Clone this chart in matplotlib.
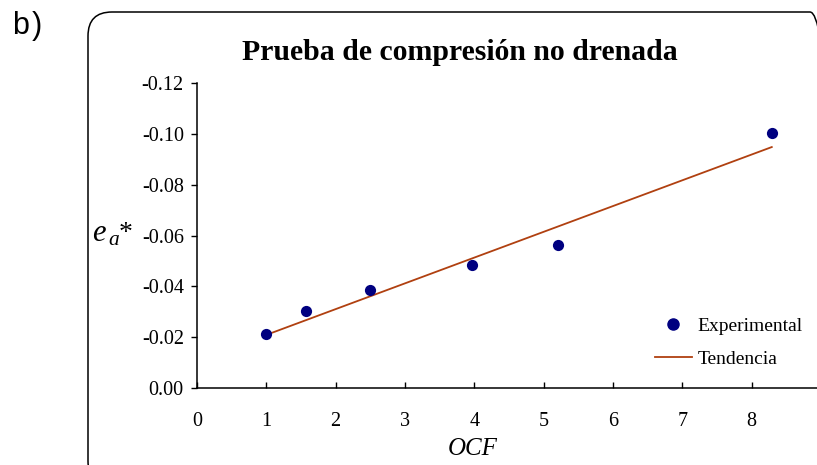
import matplotlib
matplotlib.use("Agg")
import matplotlib.pyplot as plt
from matplotlib.patches import FancyBboxPatch
from matplotlib.lines import Line2D
from matplotlib.ticker import FixedLocator, FuncFormatter
from matplotlib.transforms import IdentityTransform

# ---- data ----
ocf = [1.0, 1.57, 2.49, 3.97, 5.21, 8.29]
ea = [-0.0212, -0.0303, -0.0386, -0.0484, -0.0563, -0.1003]
trend_x = [1.0, 8.29]
trend_y = [-0.0209, -0.0948]
x_ticks = [0, 1, 2, 3, 4, 5, 6, 7, 8, 9]
y_ticks = [0.00, -0.02, -0.04, -0.06, -0.08, -0.10, -0.12]
title = "Prueba de compresión no drenada"
xlabel = "OCF"
labels = ["Experimental", "Tendencia"]

plt.rcParams['font.family'] = ['Liberation Serif', 'DejaVu Serif']
plt.rcParams['mathtext.fontset'] = 'custom'
plt.rcParams['mathtext.rm'] = 'Liberation Serif'
plt.rcParams['mathtext.it'] = 'Liberation Serif:italic'

W, H = 817, 465
fig = plt.figure(figsize=(W / 100, H / 100), dpi=100)

# rounded frame (pixel coordinates, origin bottom-left)
frame = FancyBboxPatch((88, H - 485), 834 - 88, 485 - 12,
                       boxstyle="round,pad=0,rounding_size=24",
                       transform=IdentityTransform(), fill=False,
                       edgecolor='black', linewidth=1.1)
fig.patches.append(frame)

ax = fig.add_axes([197 / W, 1 - 388 / H, (821 - 197) / W, (388 - 83) / H])
ax.set_facecolor('none')

navy = '#000080'
brown = '#B04010'
ax.scatter(ocf, ea, s=65, color=navy, zorder=3, linewidths=0)
ax.plot(trend_x, trend_y, color=brown, linewidth=1.3, zorder=2)

ax.set_xlim(0, 9)
ax.set_ylim(0, -0.12)
ax.xaxis.set_major_locator(FixedLocator(x_ticks))
ax.yaxis.set_major_locator(FixedLocator(y_ticks))
ax.yaxis.set_major_formatter(FuncFormatter(lambda v, p: "0.00" if abs(v) < 1e-9 else f"{v:.2f}"))
for s in ['top', 'right']:
    ax.spines[s].set_visible(False)
for s in ['left', 'bottom']:
    ax.spines[s].set_linewidth(1.1)
ax.tick_params(axis='x', direction='in', length=4.5, width=1, pad=17, labelsize=14.5)
ax.tick_params(axis='y', direction='out', length=4.5, width=1, pad=5, labelsize=14.5)

# texts
fig.text(460 / W, 1 - 60 / H, title, ha='center', va='baseline',
         fontsize=21.4, fontweight='bold')
fig.text(473 / W, 1 - 455 / H, xlabel, ha='center', va='baseline',
         fontsize=18, style='italic')
fig.text(92 / W, 1 - 241 / H, r'$e_{\,a}$', ha='left', va='baseline', fontsize=22)
fig.text(119 / W, 1 - 240 / H, '*', ha='left', va='baseline', fontsize=20)
fig.text(12 / W, 1 - 34 / H, 'b', ha='left', va='baseline', fontsize=22,
         family=['Liberation Sans', 'DejaVu Sans'])
fig.text(32 / W, 1 - 34 / H, ')', ha='left', va='baseline', fontsize=22,
         family=['Liberation Sans', 'DejaVu Sans'])

handles = [Line2D([], [], linestyle='none', marker='o', markersize=8,
                  markerfacecolor=navy, markeredgecolor=navy),
           Line2D([], [], color=brown, linewidth=1.3)]
ax.legend(handles, labels, loc='upper left', bbox_to_anchor=(655 / W, 1 - 317 / H),
          bbox_transform=fig.transFigure, frameon=False, fontsize=14,
          borderpad=0, borderaxespad=0, handlelength=1.9, handletextpad=0.3,
          labelspacing=0.8)

fig.savefig('out.png', dpi=100)
